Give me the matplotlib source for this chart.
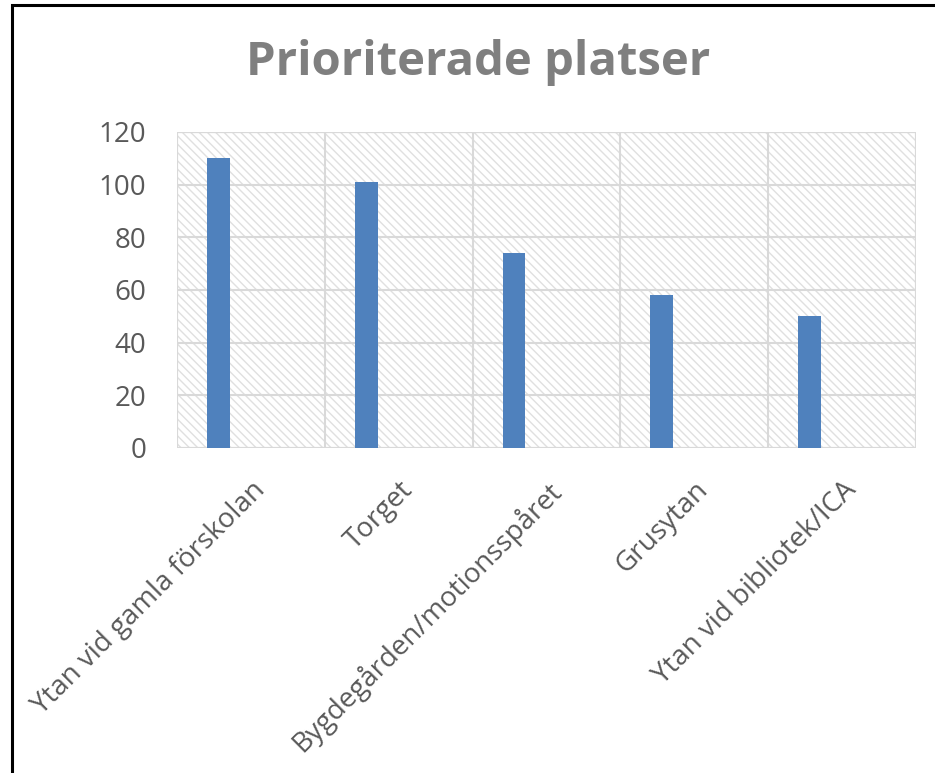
import matplotlib.pyplot as plt
from matplotlib.patches import Rectangle

plt.rcParams['font.family'] = ['Open Sans', 'DejaVu Sans']
plt.rcParams['hatch.linewidth'] = 1.0

categories = ["Ytan vid gamla förskolan", "Torget", "Bygdegården/motionsspåret",
              "Grusytan", "Ytan vid bibliotek/ICA"]
values = [110, 101, 74, 58, 50]
yticks = [0, 20, 40, 60, 80, 100, 120]

fig = plt.figure(figsize=(9.35, 7.73), dpi=100)
ax = fig.add_axes([177/935, 1 - 448/773, (916 - 177)/935, (448 - 132)/773])

# hatched plot area background
ax.patch.set_visible(False)
bg = Rectangle((0, 0), 1, 1, transform=ax.transAxes, facecolor='white',
               edgecolor='#e0e0e0', hatch='\\\\\\\\', linewidth=1.5, zorder=0)
ax.add_patch(bg)
border = Rectangle((0, 0), 1, 1, transform=ax.transAxes, fill=False,
                   edgecolor='#d9d9d9', linewidth=1.5, zorder=1)
ax.add_patch(border)

x = list(range(len(categories)))
ax.bar([i - 0.22 for i in x], values, width=0.155, color='#4f81bd', zorder=3)

ax.set_xlim(-0.5, len(categories) - 0.5)
ax.set_ylim(0, 120)
ax.set_yticks(yticks)
ax.set_yticklabels([str(v) for v in yticks], fontsize=20, color='#595959')

for v in yticks[1:]:
    ax.axhline(v, color='#d9d9d9', linewidth=1.5, zorder=1)
for i in range(1, len(categories)):
    ax.axvline(i - 0.5, color='#d9d9d9', linewidth=1.5, zorder=1)

ax.set_xticks(x)
ax.set_xticklabels(categories, rotation=45, ha='right', va='top',
                   rotation_mode='anchor', fontsize=20, color='#595959')
ax.tick_params(axis='y', length=0, pad=22)
ax.tick_params(axis='x', length=0, pad=20)
for s in ax.spines.values():
    s.set_visible(False)

fig.text(478/935, 1 - 62/773, "Prioriterade platser", ha='center', va='center',
         fontsize=34, fontweight='bold', color='#7f7f7f')

# outer chart border (right and bottom edges fall outside the picture)
fig.patches.append(Rectangle((12/935, -0.1), 1.2, 1.1 - 5/773, transform=fig.transFigure,
                             fill=False, edgecolor='black', linewidth=2.2))

fig.savefig('out.png', dpi=100)
